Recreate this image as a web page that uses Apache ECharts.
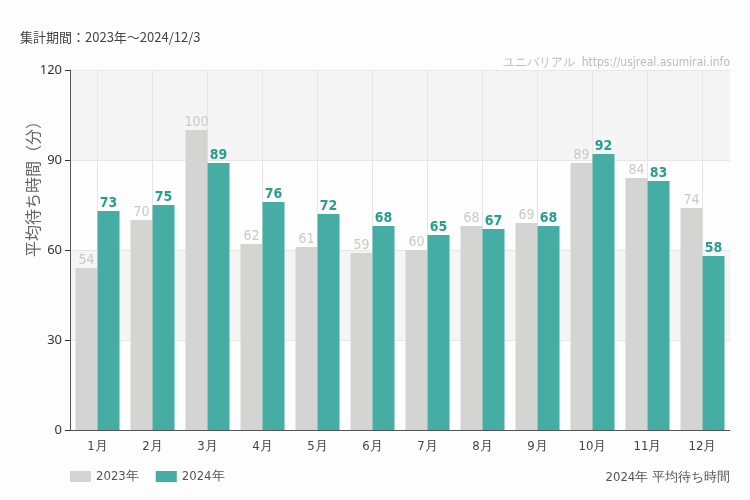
<!DOCTYPE html>
<html><head><meta charset="utf-8">
<script src="https://cdn.jsdelivr.net/npm/echarts@6/dist/echarts.min.js"></script>
<style>html,body{margin:0;padding:0;background:#fcfdfc}#c{width:750px;height:500px}</style>
</head><body><div id="c"></div>
<script>
const categories = ['1月','2月','3月','4月','5月','6月','7月','8月','9月','10月','11月','12月'];
const values2023 = [54,70,100,62,61,59,60,68,69,89,84,74];
const values2024 = [73,75,89,76,72,68,65,67,68,92,83,58];
const yTicks = [0,30,60,90,120];
const cond = "'DejaVu Sans Condensed','Liberation Sans Narrow',sans-serif";
const jp = "'Noto Sans CJK JP',sans-serif";
const chart = echarts.init(document.getElementById('c'));
chart.setOption({
  backgroundColor:'#fcfdfc',
  animation:false,
  title:[
    {text:'集計期間：2023年～2024/12/3',left:15,top:26,textStyle:{fontSize:13,fontWeight:'normal',color:'#444',fontFamily:jp}},
    {text:'ユニバリアル  https://usjreal.asumirai.info',right:15,top:52,textStyle:{fontSize:12,fontWeight:'normal',color:'#bbb',fontFamily:cond}},
    {text:'2024年 平均待ち時間',right:15,top:466,textStyle:{fontSize:13,fontWeight:'normal',color:'#555',fontFamily:cond}}
  ],
  graphic:[{type:'text',x:33,y:185,rotation:Math.PI/2,
    style:{text:'平均待ち時間（分）',fill:'#666',font:"16px 'Noto Sans CJK JP',sans-serif",textAlign:'center',textVerticalAlign:'middle'}}],
  legend:{left:65,top:465,itemWidth:21,itemHeight:11,itemGap:17,icon:'rect',textStyle:{fontSize:13,color:'#555',fontFamily:cond},data:['2023年','2024年']},
  grid:{left:70,right:20,top:70,bottom:70},
  xAxis:{type:'category',data:categories,
    axisLine:{lineStyle:{color:'#555'}},
    axisTick:{alignWithLabel:true,lineStyle:{color:'#333'}},
    axisLabel:{fontSize:13,color:'#444',fontFamily:cond,margin:10},
    splitLine:{show:true,alignWithLabel:true,lineStyle:{color:'#e6e6e6'}}},
  yAxis:{type:'value',min:0,max:120,interval:30,
    axisLine:{show:true,lineStyle:{color:'#555'}},
    axisTick:{show:true,lineStyle:{color:'#333'}},
    axisLabel:{fontSize:13,color:'#333',fontFamily:"'Noto Sans',sans-serif",margin:8,
      formatter:v=>yTicks.includes(v)?String(v):''},
    splitLine:{lineStyle:{color:'#e6e6e6'}},
    splitArea:{show:true,areaStyle:{color:['#fcfdfc','#f4f5f4']}}},
  series:[
    {name:'2023年',type:'bar',data:values2023,barWidth:22,barGap:'0%',
      itemStyle:{color:'#d4d5d3'},
      label:{show:true,position:'top',distance:1,fontSize:14,color:'#c9cac8',fontFamily:cond}},
    {name:'2024年',type:'bar',data:values2024,barWidth:22,
      itemStyle:{color:'#45ada3'},
      label:{show:true,position:'top',distance:1,fontSize:14,fontWeight:'bold',color:'#2a9d8f',fontFamily:cond}}
  ]
});
</script></body></html>
